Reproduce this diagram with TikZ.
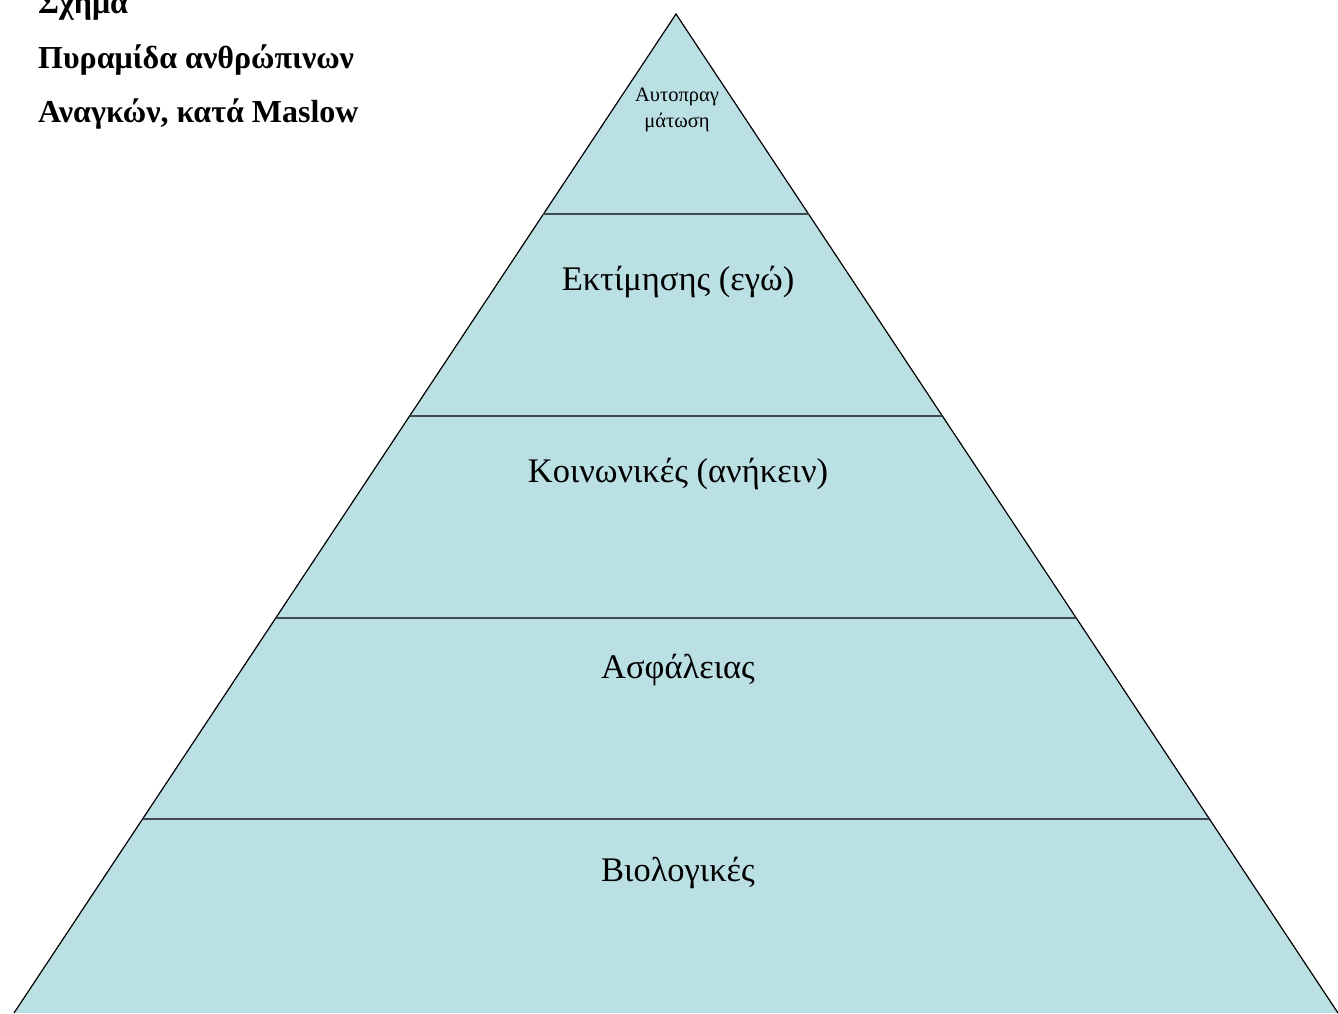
\documentclass[tikz,border=0pt]{standalone}
\usepackage{fontspec}
\setmainfont{Liberation Serif}
\definecolor{pyrfill}{HTML}{BBE0E3}
\definecolor{divline}{HTML}{3F4B4C}
\tikzset{
	level/.style={anchor=base,inner sep=0pt,font=\fontsize{34.5}{38}\selectfont},
	toplevel/.style={anchor=base,inner sep=0pt,font=\fontsize{20.5}{24}\selectfont},
	caption/.style={anchor=base west,inner sep=0pt,font=\fontsize{32}{36}\selectfont\bfseries}
}

\begin{document}
\begin{tikzpicture}[x=1pt,y=-1pt]
	\useasboundingbox (0,0) rectangle (1338,1013);
	\fill[pyrfill] (14,1013) -- (676,14) -- (1338,1013) -- cycle;
	\draw[line width=1.2pt,line join=miter] (14,1013) -- (676,14) -- (1338,1013);
	\foreach \y in {214,416,618,819} \draw[divline,line width=2.2pt] ({676-0.6627*(\y-14)},\y) -- ({676+0.6627*(\y-14)},\y);

	\node[toplevel] (aytopr1) at (677,101) {Αυτοπραγ};
	\node[toplevel] (aytopr2) at (677,127) {μάτωση};
	\node[level] (ektimisi) at (678,290) {Εκτίμησης (εγώ)};
	\node[level] (koinonikes) at (678,482) {Κοινωνικές (ανήκειν)};
	\node[level] (asfaleia) at (678,678) {Ασφάλειας};
	\node[level] (biologikes) at (678,881) {Βιολογικές};

	\node[caption] (schima) at (38,13) {Σχήμα};
	\node[caption] (titlos1) at (38,68) {Πυραμίδα ανθρώπινων};
	\node[caption] (titlos2) at (38,122) {Αναγκών, κατά Maslow};
\end{tikzpicture}
\end{document}
